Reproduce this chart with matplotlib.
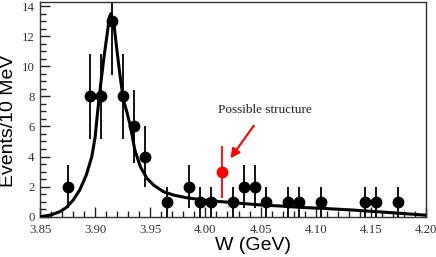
import matplotlib
matplotlib.use("Agg")
import matplotlib.pyplot as plt
from matplotlib.ticker import MultipleLocator
import numpy as np

# measured points (W in GeV, events per 10 MeV)
w = [3.875, 3.895, 3.905, 3.915, 3.925, 3.935, 3.945, 3.965, 3.985, 3.995,
     4.005, 4.025, 4.035, 4.045, 4.055, 4.075, 4.085, 4.105, 4.145, 4.155, 4.175]
counts = [2, 8, 8, 13, 8, 6, 4, 1, 2, 1,
          1, 1, 2, 2, 1, 1, 1, 1, 1, 1, 1]

# the highlighted bin
w_red = [4.015]
counts_red = [3]

# fit curve
fit_w = [3.850, 3.859, 3.868, 3.874, 3.880, 3.886, 3.892, 3.897, 3.900, 3.902,
         3.905, 3.908, 3.911, 3.913, 3.9143, 3.9167, 3.9197, 3.9227, 3.9257, 3.929,
         3.932, 3.936, 3.941, 3.947, 3.953, 3.962, 3.971, 3.983, 3.998, 4.014,
         4.032, 4.050, 4.068, 4.086, 4.1045, 4.132, 4.168, 4.200]
fit_y = [0.0, 0.1, 0.33, 0.62, 1.1, 1.77, 2.77, 4.0, 5.3, 6.8,
         8.8, 10.6, 12.2, 13.3, 13.5, 13.0, 11.1, 9.3, 7.75, 6.9,
         6.0, 4.43, 3.32, 2.55, 2.1, 1.66, 1.44, 1.26, 1.11, 1.0,
         0.89, 0.78, 0.71, 0.62, 0.56, 0.45, 0.27, 0.1]

x_ticks = [3.85, 3.90, 3.95, 4.00, 4.05, 4.10, 4.15, 4.20]

fig = plt.figure(figsize=(4.36, 2.57), dpi=100)
ax = fig.add_axes([40 / 436, 40.3 / 257, 386 / 436, 214.7 / 257])

ax.errorbar(w, counts, yerr=np.sqrt(counts), fmt="o", color="black",
            markersize=7.5, elinewidth=1.3, capsize=0, zorder=3)
ax.errorbar(w_red, counts_red, yerr=np.sqrt(counts_red), fmt="o", color="red",
            markersize=7.5, elinewidth=1.3, capsize=0, zorder=3)
ax.plot(fit_w, fit_y, color="black", lw=2.2, zorder=4)

ax.annotate("Possible structure", xy=(4.0227, 3.88), xytext=(4.054, 7.09),
            ha="center", va="center", fontsize=9.5, family="Liberation Serif",
            color="#222222",
            arrowprops=dict(arrowstyle="-|>", color="red", lw=1.5,
                            mutation_scale=14, shrinkA=6, shrinkB=0))

ax.set_xlim(3.85, 4.20)
ax.set_ylim(0, 14.27)
ax.set_xticks(x_ticks)
ax.set_xticklabels(["%.2f" % t for t in x_ticks])
ax.set_yticks(range(0, 15, 2))
ax.xaxis.set_minor_locator(MultipleLocator(0.01))
ax.yaxis.set_minor_locator(MultipleLocator(0.5))
ax.tick_params(which="both", direction="in", top=False, right=False,
               labelsize=9.2, labelcolor="#333333", color="#222222")
ax.tick_params(which="major", length=7, width=1)
ax.tick_params(which="minor", length=4, width=1)
ax.tick_params(axis="x", pad=5)
ax.tick_params(axis="y", pad=4)
for lab in ax.get_xticklabels() + ax.get_yticklabels():
    lab.set_family("Liberation Serif")
for sp in ax.spines.values():
    sp.set_color("#333333")
    sp.set_linewidth(1)

ax.set_xlabel("W (GeV)", fontsize=14, family="Liberation Sans")
ax.set_ylabel("Events/10 MeV", fontsize=14, family="Liberation Sans")
ax.xaxis.set_label_coords(0.553, -0.095)
ax.yaxis.set_label_coords(-0.06, 0.446)

fig.savefig("out.png", dpi=100)
